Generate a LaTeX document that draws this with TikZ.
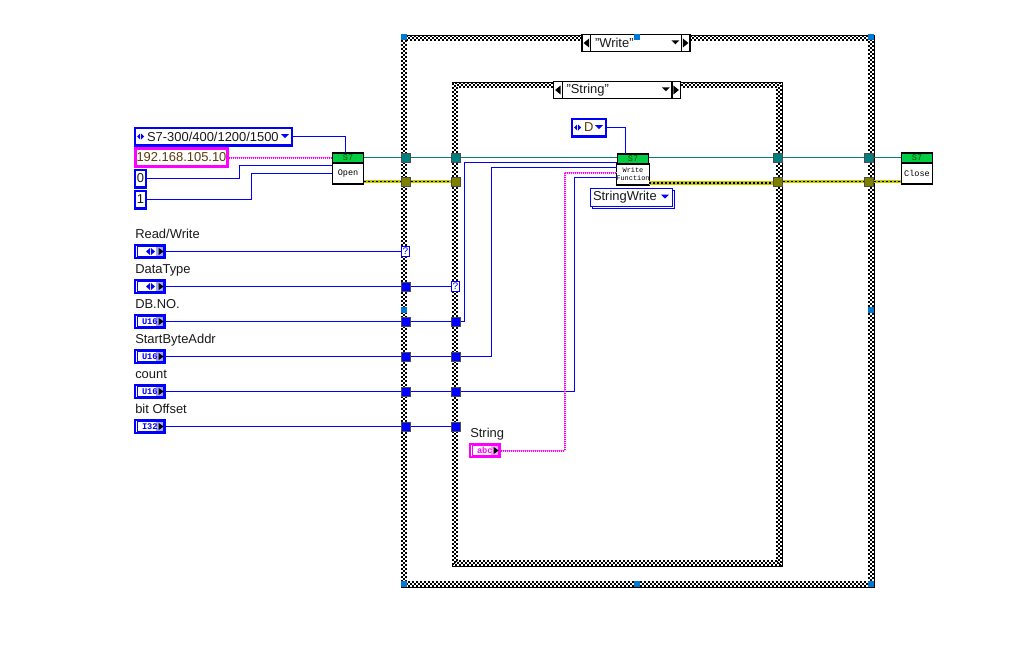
\documentclass[tikz,border=0pt]{standalone}
\usepackage{fontspec}
\setmainfont{Liberation Sans}
\setmonofont{Liberation Mono}
\usetikzlibrary{shadows}
\definecolor{ctrlblue}{HTML}{0000FF}
\definecolor{strpink}{HTML}{FF00FF}
\definecolor{refteal}{HTML}{008080}
\definecolor{errolive}{HTML}{808000}
\definecolor{errgold}{HTML}{C4C400}
\definecolor{headgreen}{HTML}{00CC44}
\definecolor{handleblue}{HTML}{0078D0}
\definecolor{ipbrown}{HTML}{5A3A08}
\newcommand{\checkband}[4]{
  \draw[band] (#1+1,#2+1) rectangle (#3-1,#4-1);
  \draw[band] (#1+3,#2+3) rectangle (#3-3,#4-3);
  \draw[band] (#1+5,#2+5) rectangle (#3-5,#4-5);
  \draw[black,line width=.75pt] (#1,#2) -| (#3,#4) -- (#1,#4);
}
\tikzset{
  band/.style={black,line width=1.5pt,dash pattern=on 1.5pt off 1.5pt},
  main text/.style={font=\fontsize{9.7}{11}\selectfont,text=black!90,inner sep=0pt},
  label node/.style={main text,anchor=base west},
  const node/.style={main text,draw=ctrlblue,line width=1.8pt,fill=white,minimum width=#1,minimum height=13.2pt},
  ring marks/.style={path picture={
    \fill[ctrlblue] ([xshift=1.6pt]path picture bounding box.west) -- ++(3,-3) -- ++(0,6) -- cycle;
    \fill[ctrlblue] ([xshift=6.8pt]path picture bounding box.west) -- ++(-3,-3) -- ++(0,6) -- cycle;
    \fill[ctrlblue] ([xshift=-2.2pt,yshift=1.8pt]path picture bounding box.east) -- ++(-8,0) -- ++(4,4) -- cycle;
  }},
  ring node/.style={const node=#1,ring marks,align=left,inner xsep=9pt,text width=#1-18pt},
  typedef node/.style={main text,draw=ctrlblue,line width=.75pt,fill=white,minimum width=61.5pt,minimum height=13.5pt,
    align=left,inner xsep=2.2pt,text width=57pt,
    copy shadow={shadow xshift=1.6pt,shadow yshift=-1.6pt,draw=ctrlblue,fill=white,line width=.75pt},
    path picture={\fill[ctrlblue] ([xshift=-2.2pt,yshift=1.8pt]path picture bounding box.east) -- ++(-8,0) -- ++(4,4) -- cycle;}},
  ctrl node/.style={draw=#1,text=#1,line width=1.8pt,fill=white,minimum width=22.4pt,minimum height=10pt,
    font=\ttfamily\bfseries\fontsize{6.5}{7}\selectfont,align=left,inner xsep=5.2pt,inner ysep=0pt,text width=12pt,
    path picture={
      \fill[#1!35] ([xshift=-7pt,yshift=3.4pt]path picture bounding box.east) rectangle ([xshift=-.9pt,yshift=-3.4pt]path picture bounding box.east);
      \draw[#1,line width=.6pt] ([xshift=1.5pt,yshift=-1.5pt]path picture bounding box.north west) rectangle ([xshift=-.9pt,yshift=1.5pt]path picture bounding box.south east);
      \fill[black] ([xshift=-.9pt]path picture bounding box.east) -- ++(-5,-3.5) -- ++(0,7) -- cycle;
    }},
  s7 head/.style={draw=black,line width=.9pt,fill=headgreen,minimum width=23.4pt,minimum height=7.5pt,inner sep=0pt,
    text=green!30!black,font=\ttfamily\fontsize{6.4}{7}\selectfont},
  s7 body/.style={draw=black,line width=.9pt,fill=white,minimum width=23.4pt,minimum height=15.8pt,inner sep=0pt,
    text=black,font=\ttfamily\fontsize{6.4}{7}\selectfont,align=center},
  tunnel/.style={draw=black!70,line width=.6pt,fill=#1,minimum size=6.9pt,inner sep=0pt},
  sel term/.style={draw=ctrlblue,line width=.75pt,fill=white,minimum width=6.6pt,minimum height=7.4pt,inner sep=0pt,
    text=ctrlblue,font=\ttfamily\fontsize{7.5}{7}\selectfont},
  case sel/.style={main text,draw=black,line width=.9pt,fill=white,minimum width=#1,minimum height=12.8pt,
    align=left,inner xsep=9.75pt,text width=#1-19.5pt,
    path picture={
      \draw[black,line width=.8pt] ([xshift=6.4pt]path picture bounding box.north west) -- ([xshift=6.4pt]path picture bounding box.south west);
      \draw[black,line width=.8pt] ([xshift=-6.4pt]path picture bounding box.north east) -- ([xshift=-6.4pt]path picture bounding box.south east);
      \fill[black] ([xshift=1.2pt]path picture bounding box.west) -- ++(5.5,-4.5) -- ++(0,9) -- cycle;
      \fill[black] ([xshift=-1.2pt]path picture bounding box.east) -- ++(-5.5,-4.5) -- ++(0,9) -- cycle;
      \fill[black] ([xshift=-8pt,yshift=2pt]path picture bounding box.east) -- ++(-8,0) -- ++(4,4) -- cycle;
    }},
  handle/.style={fill=handleblue,minimum size=4.5pt,inner sep=0pt},
  blue wire/.style={draw=ctrlblue,line width=.85pt},
  ref wire/.style={draw=refteal,line width=.95pt},
  str wire/.style={draw=strpink,line width=1.5pt,dash pattern=on .75pt off .75pt,preaction={draw=strpink!45,line width=1pt,solid}},
  err wire/.style={draw=black,line width=1pt,dash pattern=on 1.5pt off 1.5pt,preaction={draw=errgold,line width=2.4pt,solid}},
}
\begin{document}
\begin{tikzpicture}[x=.75pt,y=-.75pt,node distance=11.6pt]
\useasboundingbox (0,0) rectangle (1024,646);

% case structures
\checkband{401}{35}{874}{587}
\checkband{452}{82}{782}{566}
\node[case sel=81pt] (write sel) at (636,43) {"Write"};
\node[case sel=95.25pt] (string sel) at (617,90) {"String"};

% selection handles
\node[handle] (h1) at (404,37) {};
\node[handle] (h2) at (637,37) {};
\node[handle] (h3) at (871,37) {};
\node[handle] (h4) at (404,310) {};
\node[handle] (h5) at (871,310) {};
\node[handle] (h6) at (404,584) {};
\node[handle] (h7) at (637,584) {};
\node[handle] (h8) at (871,584) {};

% left hand constants
\node[ring node=117.6pt] (plc ring) at (213.5,136.5) {S7-300/400/1200/1500};
\node[const node=69.4pt,draw=strpink,text=ipbrown,line width=2pt] (ip const) at (181.5,157.5) {192.168.105.10};
\node[const node=8.4pt] (rack const) at (140.5,178.5) {0};
\node[const node=8.4pt] (slot const) at (140.5,199.5) {1};

% left hand controls
\node[label node] (rw label) at (135,238) {Read/Write};
\node[ctrl node=ctrlblue] (rw ctrl) at (150,251.5) {};
\node[label node] (type label) at (135,273) {DataType};
\node[ctrl node=ctrlblue] (type ctrl) at (150,286.5) {};
\node[label node] (db label) at (135,308) {DB.NO.};
\node[ctrl node=ctrlblue] (db ctrl) at (150,321.5) {U16};
\node[label node] (addr label) at (135,343) {StartByteAddr};
\node[ctrl node=ctrlblue] (addr ctrl) at (150,356.5) {U16};
\node[label node] (count label) at (135,378) {count};
\node[ctrl node=ctrlblue] (count ctrl) at (150,391.5) {U16};
\node[label node] (bit label) at (135,413) {bit Offset};
\node[ctrl node=ctrlblue] (bit ctrl) at (150,426.5) {I32};
\fill[ctrlblue] (146,251.5) -- ++(4,-3.5) -- ++(0,7) -- cycle;
\fill[ctrlblue] (155,251.5) -- ++(-4,-3.5) -- ++(0,7) -- cycle;
\fill[ctrlblue] (146,286.5) -- ++(4,-3.5) -- ++(0,7) -- cycle;
\fill[ctrlblue] (155,286.5) -- ++(-4,-3.5) -- ++(0,7) -- cycle;

% s7 blocks
\node[s7 head] (open head) at (348,158) {S7};
\node[s7 body,below of=open head] (open) {Open};
\node[s7 head] (write head) at (633,159) {S7};
\node[s7 body,below of=write head,font=\ttfamily\fontsize{5.2}{6}\selectfont] (write) {Write\\Function};
\node[s7 head] (close head) at (917,158) {S7};
\node[s7 body,below of=close head] (close) {Close};

% tunnels, top two rows
\node[tunnel=refteal] (ref a) at (406,157.5) {};
\node[tunnel=refteal] (ref b) at (456,157.5) {};
\node[tunnel=refteal] (ref c) at (778,157.5) {};
\node[tunnel=refteal] (ref d) at (869,157.5) {};
\node[tunnel=errolive] (err a) at (406,181.5) {};
\node[tunnel=errolive] (err b) at (456,181.5) {};
\node[tunnel=errolive] (err c) at (778,181.5) {};
\node[tunnel=errolive] (err d) at (869,181.5) {};

% tunnels, input rows
\node[sel term] (rw term) at (405.5,251.5) {?};
\node[tunnel=ctrlblue] (type a) at (406,286.5) {};
\node[sel term] (type term) at (455.5,286.5) {?};
\node[tunnel=ctrlblue] (db a) at (406,321.5) {};
\node[tunnel=ctrlblue] (db b) at (456,321.5) {};
\node[tunnel=ctrlblue] (addr a) at (406,356.5) {};
\node[tunnel=ctrlblue] (addr b) at (456,356.5) {};
\node[tunnel=ctrlblue] (count a) at (406,391.5) {};
\node[tunnel=ctrlblue] (count b) at (456,391.5) {};
\node[tunnel=ctrlblue] (bit a) at (406,426.5) {};
\node[tunnel=ctrlblue] (bit b) at (456,426.5) {};

% inside the inner case
\node[ring node=25.4pt,text=ipbrown] (area ring) at (589,127.5) {D};
\node[typedef node] (write type) at (631,197) {StringWrite};
\node[label node] (str label) at (470,437) {String};
\node[ctrl node=strpink] (str ctrl) at (485,450.5) {abc};

% block terminals
\coordinate (open top) at (345.5,153);
\coordinate (open ip) at (332,157.5);
\coordinate (open rack) at (332,165.5);
\coordinate (open slot) at (332,173.5);
\coordinate (open ref) at (364,157.5);
\coordinate (open err) at (364,181.5);
\coordinate (write top) at (625.5,154);
\coordinate (write ref) at (617,157.5);
\coordinate (write db) at (617,162.5);
\coordinate (write addr) at (617,167.5);
\coordinate (write str) at (617,172.5);
\coordinate (write count) at (617,177.5);
\coordinate (write refout) at (649,157.5);
\coordinate (write err) at (649,183);
\coordinate (close ref) at (901,157.5);
\coordinate (close err) at (901,181.5);

% wires
\draw[blue wire] (plc ring.east) -| (open top);
\draw[str wire] (ip const.east) -- (open ip);
\draw[blue wire] (rack const.east) -- (239.5,178.5) |- (open rack);
\draw[blue wire] (slot const.east) -- (251.5,199.5) |- (open slot);

\draw[ref wire] (open ref) -- (ref a) -- (ref b) -- (write ref);
\draw[ref wire] (write refout) -- (ref c) -- (ref d) -- (close ref);
\draw[err wire] (open err) -- (err a.west);
\draw[err wire] (err a.east) -- (err b.west);
\draw[err wire] (write err) -- (write err -| err c.west);
\draw[err wire] (err c.east) -- (err d.west);
\draw[err wire] (err d.east) -- (close err);

\draw[blue wire] (rw ctrl.east) -- (rw term.west);
\draw[blue wire] (type ctrl.east) -- (type a.west);
\draw[blue wire] (type a.east) -- (type term.west);
\draw[blue wire] (db ctrl.east) -- (db a.west);
\draw[blue wire] (db a.east) -- (db b.west);
\draw[blue wire] (addr ctrl.east) -- (addr a.west);
\draw[blue wire] (addr a.east) -- (addr b.west);
\draw[blue wire] (count ctrl.east) -- (count a.west);
\draw[blue wire] (count a.east) -- (count b.west);
\draw[blue wire] (bit ctrl.east) -- (bit a.west);
\draw[blue wire] (bit a.east) -- (bit b.west);

\draw[blue wire] (db b.east) -- (464.5,321.5) |- (write db);
\draw[blue wire] (addr b.east) -- (491.5,356.5) |- (write addr);
\draw[blue wire] (count b.east) -- (574.5,391.5) |- (write count);
\draw[str wire] (str ctrl.east) -- (564.5,450.5) |- (write str);
\draw[blue wire] (area ring.east) -| (write top);

\end{tikzpicture}
\end{document}
